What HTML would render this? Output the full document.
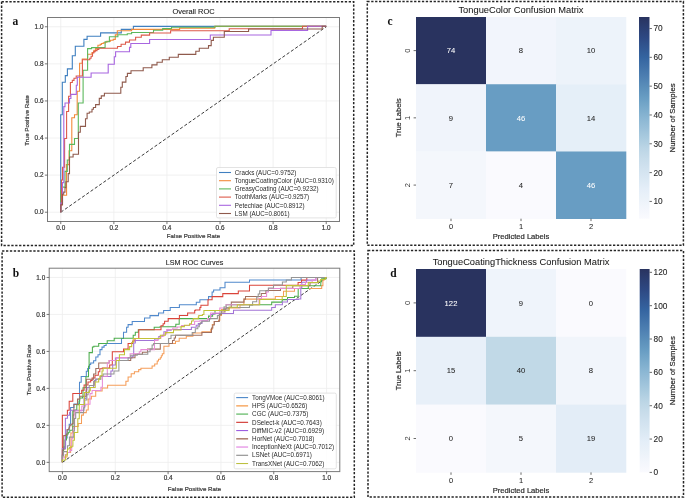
<!DOCTYPE html>
<html><head><meta charset="utf-8"><style>
html,body{margin:0;padding:0;background:#fff;}
svg{display:block;will-change:transform;}
</style></head><body>
<svg width="685" height="499" viewBox="0 0 685 499">
<rect width="685" height="499" fill="#fff"/>
<rect x="1.6" y="1.7" width="352.09999999999997" height="243.8" fill="none" stroke="#262626" stroke-width="1.5" stroke-dasharray="2.3 1.6"/>
<rect x="2.1" y="250.9" width="352.2" height="246.4" fill="none" stroke="#262626" stroke-width="1.5" stroke-dasharray="2.3 1.6"/>
<rect x="367.3" y="1.6" width="316.09999999999997" height="243.70000000000002" fill="none" stroke="#262626" stroke-width="1.5" stroke-dasharray="2.3 1.6"/>
<rect x="368.0" y="250.6" width="315.5" height="246.50000000000003" fill="none" stroke="#262626" stroke-width="1.5" stroke-dasharray="2.3 1.6"/>
<line x1="60.77" y1="17.50" x2="60.77" y2="221.50" stroke="#eeeeee" stroke-width="0.8"/>
<line x1="47.50" y1="212.23" x2="339.50" y2="212.23" stroke="#eeeeee" stroke-width="0.8"/>
<line x1="113.86" y1="17.50" x2="113.86" y2="221.50" stroke="#eeeeee" stroke-width="0.8"/>
<line x1="47.50" y1="175.14" x2="339.50" y2="175.14" stroke="#eeeeee" stroke-width="0.8"/>
<line x1="166.95" y1="17.50" x2="166.95" y2="221.50" stroke="#eeeeee" stroke-width="0.8"/>
<line x1="47.50" y1="138.05" x2="339.50" y2="138.05" stroke="#eeeeee" stroke-width="0.8"/>
<line x1="220.05" y1="17.50" x2="220.05" y2="221.50" stroke="#eeeeee" stroke-width="0.8"/>
<line x1="47.50" y1="100.95" x2="339.50" y2="100.95" stroke="#eeeeee" stroke-width="0.8"/>
<line x1="273.14" y1="17.50" x2="273.14" y2="221.50" stroke="#eeeeee" stroke-width="0.8"/>
<line x1="47.50" y1="63.86" x2="339.50" y2="63.86" stroke="#eeeeee" stroke-width="0.8"/>
<line x1="326.23" y1="17.50" x2="326.23" y2="221.50" stroke="#eeeeee" stroke-width="0.8"/>
<line x1="47.50" y1="26.77" x2="339.50" y2="26.77" stroke="#eeeeee" stroke-width="0.8"/>
<line x1="60.77" y1="212.23" x2="326.23" y2="26.77" stroke="#303030" stroke-width="0.95" stroke-dasharray="3.2 2.0"/>
<path d="M60.77,212.20 L60.70,114.70 L62.30,114.70 L62.30,82.20 L65.30,82.20 L65.30,75.60 L67.40,75.60 L67.40,68.90 L72.30,68.90 L72.30,55.80 L75.30,55.80 L75.30,46.20 L83.90,46.20 L83.90,39.40 L87.10,39.40 L87.10,36.30 L100.60,36.30 L100.60,32.90 L121.30,32.90 L121.30,29.40 L133.40,29.40 L133.40,26.40 L326.20,26.40" fill="none" stroke="#3f7fc0" stroke-width="1.1" stroke-linejoin="miter"/>
<path d="M60.77,212.20 L60.77,205.00 L62.30,205.00 L62.30,195.20 L66.60,195.20 L66.40,164.60 L69.10,164.60 L69.10,150.70 L71.80,150.70 L71.80,117.80 L74.50,117.80 L74.50,114.70 L77.20,114.70 L77.20,91.30 L79.60,91.30 L79.60,63.30 L82.30,63.30 L82.30,59.00 L87.60,59.00 L87.60,54.30 L92.00,54.30 L92.00,52.50 L93.80,52.50 L93.80,50.30 L95.60,50.30 L95.60,48.60 L97.90,48.60 L97.90,45.30 L100.20,45.30 L100.20,44.40 L101.50,44.40 L101.50,43.50 L103.30,43.50 L103.30,42.90 L105.10,42.90 L105.10,42.20 L106.90,42.20 L106.90,41.20 L110.50,41.20 L110.50,40.30 L113.20,40.30 L113.20,39.40 L115.30,39.40 L115.30,34.90 L117.30,34.90 L117.30,30.80 L131.60,30.80 L131.60,29.40 L179.60,29.40 L179.60,28.10 L214.70,28.10 L214.70,26.40 L326.20,26.40" fill="none" stroke="#f28a3a" stroke-width="1.1" stroke-linejoin="miter"/>
<path d="M60.77,212.20 L60.77,190.30 L62.30,190.30 L62.30,187.10 L65.00,187.10 L65.00,171.40 L67.30,171.40 L67.30,160.00 L69.50,160.00 L69.50,144.40 L74.50,144.40 L74.50,138.50 L78.30,138.50 L78.30,103.00 L83.10,103.00 L83.10,70.30 L87.60,70.30 L87.60,48.60 L91.60,48.60 L91.60,47.60 L105.10,47.60 L105.10,41.70 L109.40,41.70 L109.40,36.70 L117.90,36.70 L117.90,34.70 L127.30,34.70 L127.30,33.80 L131.60,33.80 L131.60,32.50 L153.50,32.50 L153.50,30.30 L162.70,30.30 L162.70,28.60 L171.50,28.60 L171.50,27.30 L215.10,27.30 L215.10,26.30 L326.20,26.30" fill="none" stroke="#5cb85c" stroke-width="1.1" stroke-linejoin="miter"/>
<path d="M60.77,212.20 L60.77,205.00 L61.50,205.00 L61.50,180.00 L62.50,180.00 L62.50,167.30 L64.60,167.30 L64.60,138.50 L66.60,138.50 L66.60,111.50 L68.60,111.50 L68.60,96.20 L70.40,96.20 L70.40,82.50 L72.30,82.50 L72.30,80.40 L74.00,80.40 L74.00,78.20 L76.20,78.20 L76.20,76.00 L82.40,76.00 L82.40,59.80 L89.80,59.80 L89.80,58.20 L91.10,58.20 L91.10,56.20 L92.50,56.20 L92.50,53.00 L93.80,53.00 L93.80,51.60 L95.20,51.60 L95.20,50.60 L97.00,50.60 L97.00,49.40 L98.80,49.40 L98.80,48.30 L117.50,48.30 L117.50,46.50 L121.10,46.50 L121.10,44.30 L125.50,44.30 L125.50,42.10 L129.50,42.10 L129.50,40.00 L135.60,40.00 L135.60,37.30 L141.30,37.30 L141.30,35.10 L149.60,35.10 L149.60,33.00 L170.60,33.00 L170.60,30.80 L229.20,30.80 L229.20,28.70 L302.50,28.70 L302.50,26.30 L326.20,26.30" fill="none" stroke="#dd5a4a" stroke-width="1.1" stroke-linejoin="miter"/>
<path d="M60.77,212.20 L60.77,203.00 L62.50,203.00 L62.50,182.60 L63.80,182.60 L63.80,106.60 L65.00,106.60 L65.00,103.00 L69.50,103.00 L69.50,98.50 L70.90,98.50 L70.90,94.40 L76.30,94.40 L76.30,85.30 L77.30,85.30 L77.30,77.30 L91.10,77.30 L91.10,73.00 L108.20,73.00 L108.20,64.20 L114.30,64.20 L114.30,56.80 L115.60,56.80 L115.60,51.80 L129.50,51.80 L129.50,47.40 L130.80,47.40 L130.80,43.50 L149.60,43.50 L149.60,39.50 L210.30,39.50 L210.30,35.00 L271.00,35.00 L271.00,30.40 L307.60,30.40 L307.60,26.30 L326.20,26.30" fill="none" stroke="#a866e0" stroke-width="1.1" stroke-linejoin="miter"/>
<path d="M60.77,212.20 L60.77,204.70 L62.50,204.70 L62.50,194.30 L63.70,194.30 L63.70,192.10 L65.00,192.10 L65.00,187.60 L65.90,187.60 L65.90,181.70 L68.20,181.70 L68.20,173.60 L69.50,173.60 L69.50,157.00 L73.10,157.00 L73.10,154.30 L78.50,154.30 L78.50,132.20 L80.30,132.20 L80.30,126.40 L85.50,126.40 L85.50,118.70 L87.10,118.70 L87.10,113.30 L89.30,113.30 L89.30,112.00 L92.00,112.00 L92.00,109.30 L93.40,109.30 L93.40,107.50 L95.60,107.50 L95.60,104.60 L99.30,104.60 L99.30,98.40 L101.30,98.40 L101.30,95.90 L104.40,95.90 L104.40,93.30 L120.80,93.30 L120.80,87.20 L122.30,87.20 L122.30,82.10 L125.90,82.10 L125.90,76.50 L127.40,76.50 L127.40,73.40 L131.00,73.40 L131.00,70.80 L143.20,70.80 L143.20,67.80 L151.90,67.80 L151.90,64.90 L157.00,64.90 L157.00,62.30 L162.30,62.30 L162.30,59.70 L169.30,59.70 L169.30,57.30 L178.30,57.30 L178.30,54.40 L195.80,54.40 L195.80,51.30 L199.30,51.30 L199.30,48.30 L208.50,48.30 L208.50,45.60 L211.20,45.60 L211.20,40.40 L213.40,40.40 L213.40,37.30 L224.30,37.30 L224.30,31.50 L248.60,31.50 L248.60,29.00 L322.20,29.00 L322.20,26.30 L326.20,26.30" fill="none" stroke="#8f5a4c" stroke-width="1.1" stroke-linejoin="miter"/>
<rect x="47.5" y="17.5" width="292.0" height="204.0" fill="none" stroke="#7a7a7a" stroke-width="1"/>
<line x1="60.77" y1="221.50" x2="60.77" y2="224.10" stroke="#555" stroke-width="0.8"/>
<text x="60.77" y="229.90" font-size="6.4" text-anchor="middle" fill="#333" font-family='"Liberation Sans", sans-serif' font-weight="normal" stroke="#333" stroke-width="0.18">0.0</text>
<line x1="44.90" y1="212.23" x2="47.50" y2="212.23" stroke="#555" stroke-width="0.8"/>
<text x="43.50" y="214.48" font-size="6.4" text-anchor="end" fill="#333" font-family='"Liberation Sans", sans-serif' font-weight="normal" stroke="#333" stroke-width="0.18">0.0</text>
<line x1="113.86" y1="221.50" x2="113.86" y2="224.10" stroke="#555" stroke-width="0.8"/>
<text x="113.86" y="229.90" font-size="6.4" text-anchor="middle" fill="#333" font-family='"Liberation Sans", sans-serif' font-weight="normal" stroke="#333" stroke-width="0.18">0.2</text>
<line x1="44.90" y1="175.14" x2="47.50" y2="175.14" stroke="#555" stroke-width="0.8"/>
<text x="43.50" y="177.39" font-size="6.4" text-anchor="end" fill="#333" font-family='"Liberation Sans", sans-serif' font-weight="normal" stroke="#333" stroke-width="0.18">0.2</text>
<line x1="166.95" y1="221.50" x2="166.95" y2="224.10" stroke="#555" stroke-width="0.8"/>
<text x="166.95" y="229.90" font-size="6.4" text-anchor="middle" fill="#333" font-family='"Liberation Sans", sans-serif' font-weight="normal" stroke="#333" stroke-width="0.18">0.4</text>
<line x1="44.90" y1="138.05" x2="47.50" y2="138.05" stroke="#555" stroke-width="0.8"/>
<text x="43.50" y="140.30" font-size="6.4" text-anchor="end" fill="#333" font-family='"Liberation Sans", sans-serif' font-weight="normal" stroke="#333" stroke-width="0.18">0.4</text>
<line x1="220.05" y1="221.50" x2="220.05" y2="224.10" stroke="#555" stroke-width="0.8"/>
<text x="220.05" y="229.90" font-size="6.4" text-anchor="middle" fill="#333" font-family='"Liberation Sans", sans-serif' font-weight="normal" stroke="#333" stroke-width="0.18">0.6</text>
<line x1="44.90" y1="100.95" x2="47.50" y2="100.95" stroke="#555" stroke-width="0.8"/>
<text x="43.50" y="103.20" font-size="6.4" text-anchor="end" fill="#333" font-family='"Liberation Sans", sans-serif' font-weight="normal" stroke="#333" stroke-width="0.18">0.6</text>
<line x1="273.14" y1="221.50" x2="273.14" y2="224.10" stroke="#555" stroke-width="0.8"/>
<text x="273.14" y="229.90" font-size="6.4" text-anchor="middle" fill="#333" font-family='"Liberation Sans", sans-serif' font-weight="normal" stroke="#333" stroke-width="0.18">0.8</text>
<line x1="44.90" y1="63.86" x2="47.50" y2="63.86" stroke="#555" stroke-width="0.8"/>
<text x="43.50" y="66.11" font-size="6.4" text-anchor="end" fill="#333" font-family='"Liberation Sans", sans-serif' font-weight="normal" stroke="#333" stroke-width="0.18">0.8</text>
<line x1="326.23" y1="221.50" x2="326.23" y2="224.10" stroke="#555" stroke-width="0.8"/>
<text x="326.23" y="229.90" font-size="6.4" text-anchor="middle" fill="#333" font-family='"Liberation Sans", sans-serif' font-weight="normal" stroke="#333" stroke-width="0.18">1.0</text>
<line x1="44.90" y1="26.77" x2="47.50" y2="26.77" stroke="#555" stroke-width="0.8"/>
<text x="43.50" y="29.02" font-size="6.4" text-anchor="end" fill="#333" font-family='"Liberation Sans", sans-serif' font-weight="normal" stroke="#333" stroke-width="0.18">1.0</text>
<text x="193.50" y="14.20" font-size="7.45" text-anchor="middle" fill="#222" font-family='"Liberation Sans", sans-serif' font-weight="normal" stroke="#222" stroke-width="0.1">Overall ROC</text>
<text x="193.50" y="237.80" font-size="6.2" text-anchor="middle" fill="#333" font-family='"Liberation Sans", sans-serif' font-weight="normal" stroke="#333" stroke-width="0.18">False Positive Rate</text>
<text x="28.60" y="120.50" font-size="6.2" text-anchor="middle" fill="#333" font-family='"Liberation Sans", sans-serif' font-weight="normal" stroke="#333" stroke-width="0.18" transform="rotate(-90 28.6 120.5)">True Positive Rate</text>
<text x="12.50" y="24.80" font-size="11.5" text-anchor="start" fill="#111" font-family='"Liberation Serif", serif' font-weight="bold">a</text>
<rect x="216.5" y="167.5" width="119.69999999999999" height="50.400000000000006" rx="1.5" fill="#fff" fill-opacity="0.85" stroke="#dcdcdc" stroke-width="0.8"/>
<line x1="219.00" y1="172.50" x2="231.00" y2="172.50" stroke="#3f7fc0" stroke-width="1.1"/>
<text x="234.80" y="174.70" font-size="6.28" text-anchor="start" fill="#2a2a2a" font-family='"Liberation Sans", sans-serif' font-weight="normal">Cracks (AUC=0.9752)</text>
<line x1="219.00" y1="180.70" x2="231.00" y2="180.70" stroke="#f28a3a" stroke-width="1.1"/>
<text x="234.80" y="182.90" font-size="6.28" text-anchor="start" fill="#2a2a2a" font-family='"Liberation Sans", sans-serif' font-weight="normal">TongueCoatingColor (AUC=0.9310)</text>
<line x1="219.00" y1="188.90" x2="231.00" y2="188.90" stroke="#5cb85c" stroke-width="1.1"/>
<text x="234.80" y="191.10" font-size="6.28" text-anchor="start" fill="#2a2a2a" font-family='"Liberation Sans", sans-serif' font-weight="normal">GreasyCoating (AUC=0.9232)</text>
<line x1="219.00" y1="197.10" x2="231.00" y2="197.10" stroke="#dd5a4a" stroke-width="1.1"/>
<text x="234.80" y="199.30" font-size="6.28" text-anchor="start" fill="#2a2a2a" font-family='"Liberation Sans", sans-serif' font-weight="normal">ToothMarks (AUC=0.9257)</text>
<line x1="219.00" y1="205.30" x2="231.00" y2="205.30" stroke="#a866e0" stroke-width="1.1"/>
<text x="234.80" y="207.50" font-size="6.28" text-anchor="start" fill="#2a2a2a" font-family='"Liberation Sans", sans-serif' font-weight="normal">Petechiae (AUC=0.8912)</text>
<line x1="219.00" y1="213.50" x2="231.00" y2="213.50" stroke="#8f5a4c" stroke-width="1.1"/>
<text x="234.80" y="215.70" font-size="6.28" text-anchor="start" fill="#2a2a2a" font-family='"Liberation Sans", sans-serif' font-weight="normal">LSM (AUC=0.8061)</text>
<line x1="62.41" y1="268.20" x2="62.41" y2="471.60" stroke="#eeeeee" stroke-width="0.8"/>
<line x1="49.20" y1="462.35" x2="339.80" y2="462.35" stroke="#eeeeee" stroke-width="0.8"/>
<line x1="115.25" y1="268.20" x2="115.25" y2="471.60" stroke="#eeeeee" stroke-width="0.8"/>
<line x1="49.20" y1="425.37" x2="339.80" y2="425.37" stroke="#eeeeee" stroke-width="0.8"/>
<line x1="168.08" y1="268.20" x2="168.08" y2="471.60" stroke="#eeeeee" stroke-width="0.8"/>
<line x1="49.20" y1="388.39" x2="339.80" y2="388.39" stroke="#eeeeee" stroke-width="0.8"/>
<line x1="220.92" y1="268.20" x2="220.92" y2="471.60" stroke="#eeeeee" stroke-width="0.8"/>
<line x1="49.20" y1="351.41" x2="339.80" y2="351.41" stroke="#eeeeee" stroke-width="0.8"/>
<line x1="273.75" y1="268.20" x2="273.75" y2="471.60" stroke="#eeeeee" stroke-width="0.8"/>
<line x1="49.20" y1="314.43" x2="339.80" y2="314.43" stroke="#eeeeee" stroke-width="0.8"/>
<line x1="326.59" y1="268.20" x2="326.59" y2="471.60" stroke="#eeeeee" stroke-width="0.8"/>
<line x1="49.20" y1="277.45" x2="339.80" y2="277.45" stroke="#eeeeee" stroke-width="0.8"/>
<line x1="62.41" y1="462.35" x2="326.59" y2="277.45" stroke="#303030" stroke-width="0.95" stroke-dasharray="3.2 2.0"/>
<path d="M62.35,462.35 L62.35,455.00 L63.00,455.00 L63.00,447.00 L65.60,447.00 L65.60,438.00 L67.10,438.00 L67.10,430.00 L69.20,430.00 L69.20,424.30 L70.60,424.30 L70.60,407.40 L73.90,407.40 L73.90,404.10 L79.50,404.10 L79.50,382.30 L81.20,382.30 L81.20,376.40 L86.30,376.40 L86.30,371.30 L87.70,371.30 L87.70,368.40 L89.60,368.40 L89.60,364.40 L90.70,364.40 L90.70,363.00 L93.60,363.00 L93.60,360.70 L95.80,360.70 L95.80,357.00 L98.00,357.00 L98.00,354.70 L100.00,354.70 L100.00,349.60 L102.00,349.60 L102.00,347.10 L104.10,347.10 L104.10,345.50 L106.10,345.50 L106.10,343.50 L121.50,343.50 L121.50,338.40 L123.50,338.40 L123.50,332.30 L126.60,332.30 L126.60,327.20 L128.10,327.20 L128.10,324.60 L132.20,324.60 L132.20,321.50 L144.50,321.50 L144.50,318.00 L150.00,318.00 L150.00,315.60 L158.50,315.60 L158.50,313.00 L163.60,313.00 L163.60,310.40 L170.20,310.40 L170.20,307.40 L179.40,307.40 L179.40,304.80 L196.30,304.80 L196.30,302.30 L199.90,302.30 L199.90,299.70 L208.50,299.70 L208.50,296.60 L212.10,296.60 L212.10,292.00 L213.60,292.00 L213.60,290.00 L220.00,290.00 L220.00,287.80 L225.00,287.80 L225.00,282.20 L249.50,282.20 L249.50,280.00 L301.10,280.00 L301.10,277.45 L326.60,277.45" fill="none" stroke="#5089cc" stroke-width="1.05" stroke-linejoin="miter"/>
<path d="M62.35,462.35 L62.35,457.00 L67.10,457.00 L67.10,452.40 L70.60,452.40 L70.60,446.00 L70.90,446.00 L70.90,433.00 L72.50,433.00 L72.50,426.50 L78.20,426.50 L78.20,423.40 L81.50,423.40 L81.50,415.10 L83.40,415.10 L83.40,412.60 L86.30,412.60 L86.30,410.00 L88.20,410.00 L88.20,399.00 L91.40,399.00 L91.40,396.30 L95.70,396.30 L95.70,391.00 L102.10,391.00 L102.10,388.00 L107.60,388.00 L107.60,385.20 L123.80,385.20 L125.90,385.20 L125.90,381.20 L128.10,381.20 L128.10,377.00 L131.20,377.00 L131.20,373.80 L134.40,373.80 L134.40,371.70 L138.70,371.70 L138.70,369.60 L140.90,369.60 L140.90,368.20 L152.10,368.20 L152.10,366.00 L154.70,366.00 L154.70,363.90 L157.20,363.90 L157.20,360.90 L158.50,360.90 L158.50,359.30 L160.30,359.30 L160.30,357.80 L161.30,357.80 L161.30,355.80 L162.30,355.80 L162.30,353.70 L163.90,353.70 L163.90,346.30 L169.00,346.30 L169.00,343.40 L175.50,343.40 L175.50,341.20 L179.20,341.20 L179.20,338.20 L186.30,338.20 L186.30,336.30 L192.90,336.30 L192.90,333.00 L201.90,333.00 L201.90,331.80 L210.80,331.80 L210.80,329.30 L212.30,329.30 L212.30,324.50 L214.20,324.50 L214.20,321.50 L218.50,321.50 L218.50,320.20 L219.80,320.20 L219.80,315.50 L221.50,315.50 L221.50,309.40 L225.40,309.40 L225.40,308.00 L240.00,308.00 L240.00,304.70 L243.90,304.70 L243.90,299.10 L275.30,299.10 L275.30,296.50 L283.50,296.50 L283.50,291.20 L294.50,291.20 L294.50,288.50 L321.70,288.50 L321.70,285.60 L322.90,285.60 L322.90,280.10 L324.00,280.10 L324.00,278.40 L326.10,278.40 L326.10,277.45 L326.60,277.45" fill="none" stroke="#f59d58" stroke-width="1.05" stroke-linejoin="miter"/>
<path d="M62.35,462.35 L62.35,455.00 L63.50,455.00 L63.50,449.00 L65.00,449.00 L65.00,440.00 L66.50,440.00 L66.50,434.00 L68.30,434.00 L68.30,432.20 L69.80,432.20 L69.80,430.30 L72.50,430.30 L72.50,428.00 L72.80,428.00 L72.80,411.00 L75.00,411.00 L75.00,409.90 L76.80,409.90 L76.80,404.80 L79.00,404.80 L79.00,401.00 L79.70,401.00 L79.70,398.00 L82.50,398.00 L82.50,397.20 L83.00,397.20 L83.00,387.70 L85.90,387.70 L85.90,376.80 L88.50,376.80 L88.50,366.20 L89.10,366.20 L89.10,352.60 L92.40,352.60 L92.40,347.00 L93.80,347.00 L93.80,346.30 L98.70,346.30 L98.70,343.50 L107.20,343.50 L107.20,340.80 L114.20,340.80 L114.20,338.20 L133.20,338.20 L133.20,335.30 L135.30,335.30 L135.30,332.30 L138.30,332.30 L138.30,329.70 L154.20,329.70 L154.20,327.20 L160.00,327.20 L160.00,326.80 L175.80,326.80 L175.80,324.20 L179.20,324.20 L179.20,318.60 L208.50,318.60 L208.50,316.10 L212.60,316.10 L212.60,314.00 L215.00,314.00 L215.00,310.50 L224.00,310.50 L224.00,306.90 L226.20,306.90 L226.20,304.70 L271.70,304.70 L271.70,302.10 L282.20,302.10 L282.20,299.60 L287.50,299.60 L287.50,297.50 L294.50,297.50 L294.50,296.20 L298.20,296.20 L298.20,288.50 L308.30,288.50 L308.30,285.80 L320.80,285.80 L320.80,281.70 L321.60,281.70 L321.60,278.70 L326.10,278.70 L326.10,277.45 L326.60,277.45" fill="none" stroke="#4cad4c" stroke-width="1.05" stroke-linejoin="miter"/>
<path d="M62.35,462.35 L62.35,415.30 L67.40,415.30 L67.40,410.20 L69.20,410.20 L69.20,401.20 L72.80,401.20 L72.80,393.40 L81.70,393.40 L81.70,390.30 L84.10,390.30 L84.10,385.00 L88.00,385.00 L88.00,382.00 L90.70,382.00 L90.70,380.40 L92.10,380.40 L92.10,378.00 L95.00,378.00 L95.00,375.30 L98.30,375.30 L98.30,371.70 L99.80,371.70 L99.80,368.80 L102.30,368.80 L102.30,368.00 L102.60,368.00 L109.70,368.00 L109.70,365.00 L112.30,365.00 L112.30,351.70 L123.50,351.70 L123.50,349.10 L128.10,349.10 L128.10,343.50 L132.70,343.50 L132.70,341.00 L135.00,341.00 L135.00,338.40 L137.30,338.40 L138.80,338.40 L138.80,329.70 L161.00,329.70 L161.00,327.80 L161.00,325.80 L163.10,325.80 L163.10,323.70 L164.60,323.70 L164.60,321.20 L165.60,321.20 L168.20,321.20 L168.20,318.60 L168.70,318.60 L179.40,318.60 L179.40,315.50 L187.60,315.50 L187.60,313.00 L188.10,313.00 L194.70,313.00 L194.70,310.40 L195.30,310.40 L195.30,309.90 L199.90,309.90 L199.90,307.40 L200.90,307.40 L200.90,305.30 L201.90,305.30 L208.00,305.30 L208.00,299.70 L209.00,299.70 L212.10,299.70 L212.10,296.60 L222.80,296.60 L222.80,293.60 L238.30,293.60 L238.30,290.90 L238.80,290.90 L249.50,290.90 L249.50,285.30 L298.10,285.30 L298.10,282.40 L298.40,282.40 L301.50,282.40 L301.50,280.10 L306.80,280.10 L306.80,277.45 L326.60,277.45" fill="none" stroke="#da443a" stroke-width="1.05" stroke-linejoin="miter"/>
<path d="M62.35,462.35 L62.35,448.60 L65.40,448.60 L65.40,418.30 L67.50,418.30 L67.50,415.30 L69.60,415.30 L69.60,412.40 L70.30,412.40 L70.30,410.20 L84.00,410.20 L84.00,398.50 L86.00,398.50 L86.00,390.00 L87.00,390.00 L87.00,387.50 L93.60,387.50 L93.60,385.20 L94.50,385.20 L94.50,380.40 L95.80,380.40 L95.80,379.00 L100.00,379.00 L100.00,376.50 L110.90,376.50 L110.90,371.00 L112.70,371.00 L112.70,365.00 L115.40,365.00 L115.40,358.00 L132.00,358.00 L132.00,356.30 L133.70,356.30 L133.70,343.00 L135.30,343.00 L135.30,340.40 L154.70,340.40 L154.70,338.90 L158.80,338.90 L158.80,336.40 L162.30,336.40 L162.30,335.30 L163.90,335.30 L163.90,331.80 L167.00,331.80 L167.00,330.20 L171.20,330.20 L171.20,329.50 L191.40,329.50 L191.40,327.30 L196.20,327.30 L196.20,325.20 L198.30,325.20 L198.30,323.50 L201.90,323.50 L201.90,320.70 L207.80,320.70 L207.80,318.60 L210.60,318.60 L210.60,314.50 L213.10,314.50 L213.10,313.50 L227.00,313.50 L227.00,313.40 L233.50,313.40 L233.50,310.30 L271.70,310.30 L271.70,307.50 L275.30,307.50 L275.30,304.70 L282.40,304.70 L282.40,302.00 L287.50,302.00 L287.50,299.50 L298.40,299.50 L298.40,299.00 L300.80,299.00 L300.80,288.10 L301.80,288.10 L301.80,282.30 L306.50,282.30 L306.50,280.10 L316.00,280.10 L316.00,277.45 L326.60,277.45" fill="none" stroke="#a274d6" stroke-width="1.05" stroke-linejoin="miter"/>
<path d="M62.35,462.35 L62.35,450.00 L63.70,450.00 L63.70,435.60 L65.60,435.60 L65.60,435.20 L67.10,435.20 L67.10,429.50 L68.80,429.50 L68.80,427.90 L69.60,427.90 L69.60,425.80 L71.00,425.80 L71.00,424.30 L72.40,424.30 L72.40,423.60 L73.20,423.60 L73.20,414.90 L73.90,414.90 L73.90,404.50 L77.50,404.50 L77.50,399.10 L79.70,399.10 L79.70,396.30 L86.40,396.30 L86.40,379.30 L86.60,379.30 L93.60,379.30 L93.60,373.90 L95.80,373.90 L95.80,368.40 L98.70,368.40 L98.70,362.90 L109.20,362.90 L109.20,360.40 L130.70,360.40 L130.70,357.80 L135.00,357.80 L135.00,354.20 L142.40,354.20 L142.40,352.20 L147.50,352.20 L147.50,349.10 L160.30,349.10 L160.30,343.40 L172.50,343.40 L172.50,340.50 L174.20,340.50 L174.20,338.00 L175.50,338.00 L175.50,335.20 L201.90,335.20 L201.90,332.40 L211.50,332.40 L211.50,328.00 L212.80,328.00 L212.80,325.00 L214.30,325.00 L214.30,321.50 L219.30,321.50 L219.30,314.50 L221.30,314.50 L221.30,312.00 L225.00,312.00 L225.00,309.00 L229.10,309.00 L229.10,307.30 L231.30,307.30 L231.30,302.10 L244.00,302.10 L244.00,299.10 L245.50,299.10 L245.50,296.50 L261.30,296.50 L261.30,293.50 L265.90,293.50 L265.90,290.40 L280.50,290.40 L280.50,288.20 L292.80,288.20 L292.80,285.80 L310.00,285.80 L310.00,282.70 L317.60,282.70 L317.60,277.45 L326.60,277.45" fill="none" stroke="#a07060" stroke-width="1.05" stroke-linejoin="miter"/>
<path d="M62.35,462.35 L62.35,458.00 L65.20,458.00 L65.20,454.50 L67.30,454.50 L67.30,452.40 L69.80,452.40 L69.80,450.50 L71.70,450.50 L71.70,438.70 L72.90,438.70 L72.90,433.00 L73.20,433.00 L73.20,428.00 L74.60,428.00 L74.60,418.50 L75.00,418.50 L75.00,411.00 L81.80,411.00 L81.80,405.90 L85.80,405.90 L85.80,404.30 L90.00,404.30 L90.00,393.60 L92.10,393.60 L92.10,390.50 L100.90,390.50 L100.90,387.20 L102.40,387.20 L102.40,376.30 L107.30,376.30 L107.30,362.90 L109.20,362.90 L109.20,360.40 L116.30,360.40 L116.30,357.50 L130.10,357.50 L130.10,353.70 L139.30,353.70 L139.30,351.70 L140.90,351.70 L140.90,349.60 L154.50,349.60 L154.50,340.50 L158.00,340.50 L158.00,338.30 L160.90,338.30 L160.90,336.10 L163.80,336.10 L163.80,333.90 L166.70,333.90 L166.70,329.40 L172.80,329.40 L172.80,328.00 L177.20,328.00 L177.20,327.00 L181.50,327.00 L181.50,325.50 L189.60,325.50 L189.60,324.40 L194.60,324.40 L194.60,321.30 L199.90,321.30 L199.90,320.70 L207.50,320.70 L207.50,318.60 L210.60,318.60 L210.60,313.00 L219.80,313.00 L219.80,307.90 L226.00,307.90 L226.00,304.70 L259.00,304.70 L259.00,298.60 L261.50,298.60 L261.50,296.50 L266.60,296.50 L266.60,291.90 L268.40,291.90 L268.40,288.40 L300.00,288.40 L300.00,284.40 L305.50,284.40 L305.50,282.20 L312.20,282.20 L312.20,280.10 L315.60,280.10 L315.60,277.45 L326.60,277.45" fill="none" stroke="#e88cd6" stroke-width="1.05" stroke-linejoin="miter"/>
<path d="M62.35,462.35 L62.35,456.00 L63.50,456.00 L63.50,451.60 L67.50,451.60 L67.50,445.70 L69.40,445.70 L69.40,437.10 L73.80,437.10 L73.80,431.00 L74.40,431.00 L74.40,418.50 L75.70,418.50 L75.70,412.60 L83.60,412.60 L83.60,407.70 L84.70,407.70 L84.70,400.00 L86.90,400.00 L86.90,394.70 L88.10,394.70 L88.10,392.10 L89.20,392.10 L89.20,385.50 L93.60,385.50 L93.60,381.20 L95.80,381.20 L95.80,379.30 L100.90,379.30 L100.90,376.00 L103.10,376.00 L103.10,373.90 L114.00,373.90 L114.00,371.00 L118.90,371.00 L118.90,360.40 L119.40,360.40 L128.10,360.40 L128.10,357.80 L130.70,357.80 L130.70,355.30 L137.30,355.30 L137.30,354.20 L147.80,354.20 L147.80,351.70 L150.10,351.70 L150.10,349.10 L152.10,349.10 L152.10,345.00 L153.60,345.00 L153.60,343.50 L168.60,343.50 L168.60,338.50 L171.00,338.50 L171.00,335.20 L192.20,335.20 L192.20,332.40 L195.30,332.40 L195.30,328.80 L197.80,328.80 L197.80,326.80 L199.30,326.80 L199.30,324.20 L200.40,324.20 L200.40,322.70 L201.90,322.70 L201.90,321.20 L209.50,321.20 L209.50,318.60 L217.40,318.60 L217.40,315.50 L220.00,315.50 L220.00,313.50 L221.30,313.50 L221.30,310.40 L224.00,310.40 L224.00,308.80 L226.50,308.80 L226.50,307.50 L249.50,307.50 L249.50,305.20 L252.60,305.20 L252.60,301.80 L256.70,301.80 L256.70,297.00 L258.20,297.00 L258.20,294.00 L259.70,294.00 L259.70,290.80 L268.40,290.80 L268.40,288.00 L273.50,288.00 L273.50,285.00 L282.40,285.00 L282.40,282.00 L286.30,282.00 L286.30,280.00 L291.40,280.00 L291.40,277.45 L326.60,277.45" fill="none" stroke="#959595" stroke-width="1.05" stroke-linejoin="miter"/>
<path d="M62.35,462.35 L62.35,460.00 L65.60,460.00 L65.60,455.00 L67.50,455.00 L67.50,449.00 L69.40,449.00 L69.40,447.40 L71.70,447.40 L71.70,446.30 L72.90,446.30 L72.90,440.20 L74.40,440.20 L74.40,432.40 L77.80,432.40 L77.80,418.70 L79.30,418.70 L79.30,404.50 L84.40,404.50 L84.40,392.50 L89.20,392.50 L89.20,390.70 L90.30,390.70 L90.30,387.40 L95.20,387.40 L95.20,381.90 L98.70,381.90 L98.70,378.60 L100.10,378.60 L100.10,375.70 L102.00,375.70 L102.00,370.90 L103.10,370.90 L103.10,368.20 L116.30,368.20 L116.30,360.40 L119.40,360.40 L119.40,354.70 L124.50,354.70 L124.50,349.60 L129.60,349.60 L129.60,346.60 L131.70,346.60 L131.70,342.50 L133.20,342.50 L133.20,338.40 L160.30,338.40 L160.30,335.30 L165.40,335.30 L165.40,332.60 L173.50,332.60 L173.50,329.90 L181.00,329.90 L181.00,326.60 L184.40,326.60 L184.40,325.20 L189.60,325.20 L189.60,323.70 L191.50,323.70 L191.50,321.00 L193.20,321.00 L193.20,318.60 L198.30,318.60 L198.30,317.00 L198.80,317.00 L198.80,315.50 L202.40,315.50 L202.40,314.50 L203.90,314.50 L203.90,310.40 L229.10,310.40 L229.10,307.30 L237.30,307.30 L237.30,304.70 L259.70,304.70 L259.70,299.40 L282.20,299.40 L282.20,296.50 L286.30,296.50 L286.30,285.60 L308.30,285.60 L308.30,282.40 L318.60,282.40 L318.60,281.00 L320.60,281.00 L320.60,279.50 L325.30,279.50 L325.30,278.70 L325.30,277.45 L326.60,277.45" fill="none" stroke="#c2c238" stroke-width="1.05" stroke-linejoin="miter"/>
<rect x="49.2" y="268.2" width="290.6" height="203.40000000000003" fill="none" stroke="#7a7a7a" stroke-width="1"/>
<line x1="62.41" y1="471.60" x2="62.41" y2="474.20" stroke="#555" stroke-width="0.8"/>
<text x="62.41" y="480.00" font-size="6.4" text-anchor="middle" fill="#333" font-family='"Liberation Sans", sans-serif' font-weight="normal" stroke="#333" stroke-width="0.18">0.0</text>
<line x1="46.60" y1="462.35" x2="49.20" y2="462.35" stroke="#555" stroke-width="0.8"/>
<text x="45.20" y="464.60" font-size="6.4" text-anchor="end" fill="#333" font-family='"Liberation Sans", sans-serif' font-weight="normal" stroke="#333" stroke-width="0.18">0.0</text>
<line x1="115.25" y1="471.60" x2="115.25" y2="474.20" stroke="#555" stroke-width="0.8"/>
<text x="115.25" y="480.00" font-size="6.4" text-anchor="middle" fill="#333" font-family='"Liberation Sans", sans-serif' font-weight="normal" stroke="#333" stroke-width="0.18">0.2</text>
<line x1="46.60" y1="425.37" x2="49.20" y2="425.37" stroke="#555" stroke-width="0.8"/>
<text x="45.20" y="427.62" font-size="6.4" text-anchor="end" fill="#333" font-family='"Liberation Sans", sans-serif' font-weight="normal" stroke="#333" stroke-width="0.18">0.2</text>
<line x1="168.08" y1="471.60" x2="168.08" y2="474.20" stroke="#555" stroke-width="0.8"/>
<text x="168.08" y="480.00" font-size="6.4" text-anchor="middle" fill="#333" font-family='"Liberation Sans", sans-serif' font-weight="normal" stroke="#333" stroke-width="0.18">0.4</text>
<line x1="46.60" y1="388.39" x2="49.20" y2="388.39" stroke="#555" stroke-width="0.8"/>
<text x="45.20" y="390.64" font-size="6.4" text-anchor="end" fill="#333" font-family='"Liberation Sans", sans-serif' font-weight="normal" stroke="#333" stroke-width="0.18">0.4</text>
<line x1="220.92" y1="471.60" x2="220.92" y2="474.20" stroke="#555" stroke-width="0.8"/>
<text x="220.92" y="480.00" font-size="6.4" text-anchor="middle" fill="#333" font-family='"Liberation Sans", sans-serif' font-weight="normal" stroke="#333" stroke-width="0.18">0.6</text>
<line x1="46.60" y1="351.41" x2="49.20" y2="351.41" stroke="#555" stroke-width="0.8"/>
<text x="45.20" y="353.66" font-size="6.4" text-anchor="end" fill="#333" font-family='"Liberation Sans", sans-serif' font-weight="normal" stroke="#333" stroke-width="0.18">0.6</text>
<line x1="273.75" y1="471.60" x2="273.75" y2="474.20" stroke="#555" stroke-width="0.8"/>
<text x="273.75" y="480.00" font-size="6.4" text-anchor="middle" fill="#333" font-family='"Liberation Sans", sans-serif' font-weight="normal" stroke="#333" stroke-width="0.18">0.8</text>
<line x1="46.60" y1="314.43" x2="49.20" y2="314.43" stroke="#555" stroke-width="0.8"/>
<text x="45.20" y="316.68" font-size="6.4" text-anchor="end" fill="#333" font-family='"Liberation Sans", sans-serif' font-weight="normal" stroke="#333" stroke-width="0.18">0.8</text>
<line x1="326.59" y1="471.60" x2="326.59" y2="474.20" stroke="#555" stroke-width="0.8"/>
<text x="326.59" y="480.00" font-size="6.4" text-anchor="middle" fill="#333" font-family='"Liberation Sans", sans-serif' font-weight="normal" stroke="#333" stroke-width="0.18">1.0</text>
<line x1="46.60" y1="277.45" x2="49.20" y2="277.45" stroke="#555" stroke-width="0.8"/>
<text x="45.20" y="279.70" font-size="6.4" text-anchor="end" fill="#333" font-family='"Liberation Sans", sans-serif' font-weight="normal" stroke="#333" stroke-width="0.18">1.0</text>
<text x="194.50" y="264.70" font-size="7.2" text-anchor="middle" fill="#222" font-family='"Liberation Sans", sans-serif' font-weight="normal" stroke="#222" stroke-width="0.1">LSM ROC Curves</text>
<text x="194.50" y="490.70" font-size="6.2" text-anchor="middle" fill="#333" font-family='"Liberation Sans", sans-serif' font-weight="normal" stroke="#333" stroke-width="0.18">False Positive Rate</text>
<text x="30.80" y="369.90" font-size="6.2" text-anchor="middle" fill="#333" font-family='"Liberation Sans", sans-serif' font-weight="normal" stroke="#333" stroke-width="0.18" transform="rotate(-90 30.8 369.9)">True Positive Rate</text>
<text x="12.80" y="276.70" font-size="11.5" text-anchor="start" fill="#111" font-family='"Liberation Serif", serif' font-weight="bold">b</text>
<rect x="234.2" y="393.1" width="102.10000000000002" height="75.69999999999999" rx="1.5" fill="#fff" fill-opacity="0.85" stroke="#dcdcdc" stroke-width="0.8"/>
<line x1="236.20" y1="397.60" x2="248.10" y2="397.60" stroke="#4a86c8" stroke-width="1.1"/>
<text x="252.10" y="399.80" font-size="6.32" text-anchor="start" fill="#2a2a2a" font-family='"Liberation Sans", sans-serif' font-weight="normal">TongVMoe (AUC=0.8061)</text>
<line x1="236.20" y1="405.84" x2="248.10" y2="405.84" stroke="#f8b070" stroke-width="1.6"/>
<text x="252.10" y="408.04" font-size="6.32" text-anchor="start" fill="#2a2a2a" font-family='"Liberation Sans", sans-serif' font-weight="normal">HPS (AUC=0.6526)</text>
<line x1="236.20" y1="414.08" x2="248.10" y2="414.08" stroke="#4caf50" stroke-width="1.1"/>
<text x="252.10" y="416.28" font-size="6.32" text-anchor="start" fill="#2a2a2a" font-family='"Liberation Sans", sans-serif' font-weight="normal">CGC (AUC=0.7375)</text>
<line x1="236.20" y1="422.32" x2="248.10" y2="422.32" stroke="#d0302a" stroke-width="1.1"/>
<text x="252.10" y="424.52" font-size="6.32" text-anchor="start" fill="#2a2a2a" font-family='"Liberation Sans", sans-serif' font-weight="normal">DSelect-k (AUC=0.7643)</text>
<line x1="236.20" y1="430.56" x2="248.10" y2="430.56" stroke="#9c5ee0" stroke-width="1.1"/>
<text x="252.10" y="432.76" font-size="6.32" text-anchor="start" fill="#2a2a2a" font-family='"Liberation Sans", sans-serif' font-weight="normal">DiffMIC-v2 (AUC=0.6929)</text>
<line x1="236.20" y1="438.80" x2="248.10" y2="438.80" stroke="#b08474" stroke-width="1.6"/>
<text x="252.10" y="441.00" font-size="6.32" text-anchor="start" fill="#2a2a2a" font-family='"Liberation Sans", sans-serif' font-weight="normal">HorNet (AUC=0.7018)</text>
<line x1="236.20" y1="447.04" x2="248.10" y2="447.04" stroke="#e07ee0" stroke-width="1.1"/>
<text x="252.10" y="449.24" font-size="6.32" text-anchor="start" fill="#2a2a2a" font-family='"Liberation Sans", sans-serif' font-weight="normal">InceptionNeXt (AUC=0.7012)</text>
<line x1="236.20" y1="455.28" x2="248.10" y2="455.28" stroke="#8a8a8a" stroke-width="1.1"/>
<text x="252.10" y="457.48" font-size="6.32" text-anchor="start" fill="#2a2a2a" font-family='"Liberation Sans", sans-serif' font-weight="normal">LSNet (AUC=0.6971)</text>
<line x1="236.20" y1="463.52" x2="248.10" y2="463.52" stroke="#bcc040" stroke-width="1.1"/>
<text x="252.10" y="465.72" font-size="6.32" text-anchor="start" fill="#2a2a2a" font-family='"Liberation Sans", sans-serif' font-weight="normal">TransXNet (AUC=0.7062)</text>
<rect x="416.00" y="17.00" width="70.30" height="67.53" fill="#29335f"/>
<text x="451.00" y="53.32" font-size="7.67" text-anchor="middle" fill="#fff" font-family='"Liberation Sans", sans-serif' font-weight="normal" stroke="#fff" stroke-width="0.05">74</text>
<rect x="486.00" y="17.00" width="70.30" height="67.53" fill="#f2f5fc"/>
<text x="521.00" y="53.32" font-size="7.67" text-anchor="middle" fill="#262626" font-family='"Liberation Sans", sans-serif' font-weight="normal" stroke="#262626" stroke-width="0.05">8</text>
<rect x="556.00" y="17.00" width="70.30" height="67.53" fill="#edf3fa"/>
<text x="591.00" y="53.32" font-size="7.67" text-anchor="middle" fill="#262626" font-family='"Liberation Sans", sans-serif' font-weight="normal" stroke="#262626" stroke-width="0.05">10</text>
<rect x="416.00" y="84.23" width="70.30" height="67.53" fill="#f0f4fb"/>
<text x="451.00" y="120.55" font-size="7.67" text-anchor="middle" fill="#262626" font-family='"Liberation Sans", sans-serif' font-weight="normal" stroke="#262626" stroke-width="0.05">9</text>
<rect x="486.00" y="84.23" width="70.30" height="67.53" fill="#689dc3"/>
<text x="521.00" y="120.55" font-size="7.67" text-anchor="middle" fill="#fff" font-family='"Liberation Sans", sans-serif' font-weight="normal" stroke="#fff" stroke-width="0.05">46</text>
<rect x="556.00" y="84.23" width="70.30" height="67.53" fill="#e5eff8"/>
<text x="591.00" y="120.55" font-size="7.67" text-anchor="middle" fill="#262626" font-family='"Liberation Sans", sans-serif' font-weight="normal" stroke="#262626" stroke-width="0.05">14</text>
<rect x="416.00" y="151.47" width="70.30" height="67.53" fill="#f4f7fc"/>
<text x="451.00" y="187.78" font-size="7.67" text-anchor="middle" fill="#262626" font-family='"Liberation Sans", sans-serif' font-weight="normal" stroke="#262626" stroke-width="0.05">7</text>
<rect x="486.00" y="151.47" width="70.30" height="67.53" fill="#fafafe"/>
<text x="521.00" y="187.78" font-size="7.67" text-anchor="middle" fill="#262626" font-family='"Liberation Sans", sans-serif' font-weight="normal" stroke="#262626" stroke-width="0.05">4</text>
<rect x="556.00" y="151.47" width="70.30" height="67.53" fill="#689dc3"/>
<text x="591.00" y="187.78" font-size="7.67" text-anchor="middle" fill="#fff" font-family='"Liberation Sans", sans-serif' font-weight="normal" stroke="#fff" stroke-width="0.05">46</text>
<line x1="451.00" y1="218.70" x2="451.00" y2="221.10" stroke="#444" stroke-width="0.8"/>
<text x="451.00" y="228.60" font-size="7.5" text-anchor="middle" fill="#262626" font-family='"Liberation Sans", sans-serif' font-weight="normal" stroke="#262626" stroke-width="0.05">0</text>
<line x1="413.60" y1="50.62" x2="416.00" y2="50.62" stroke="#444" stroke-width="0.8"/>
<text x="409.90" y="50.62" font-size="7.5" text-anchor="middle" fill="#333" font-family='"Liberation Sans", sans-serif' font-weight="normal" transform="rotate(-90 409.9 50.61666666666667)">0</text>
<line x1="521.00" y1="218.70" x2="521.00" y2="221.10" stroke="#444" stroke-width="0.8"/>
<text x="521.00" y="228.60" font-size="7.5" text-anchor="middle" fill="#262626" font-family='"Liberation Sans", sans-serif' font-weight="normal" stroke="#262626" stroke-width="0.05">1</text>
<line x1="413.60" y1="117.85" x2="416.00" y2="117.85" stroke="#444" stroke-width="0.8"/>
<text x="409.90" y="117.85" font-size="7.5" text-anchor="middle" fill="#333" font-family='"Liberation Sans", sans-serif' font-weight="normal" transform="rotate(-90 409.9 117.85)">1</text>
<line x1="591.00" y1="218.70" x2="591.00" y2="221.10" stroke="#444" stroke-width="0.8"/>
<text x="591.00" y="228.60" font-size="7.5" text-anchor="middle" fill="#262626" font-family='"Liberation Sans", sans-serif' font-weight="normal" stroke="#262626" stroke-width="0.05">2</text>
<line x1="413.60" y1="185.08" x2="416.00" y2="185.08" stroke="#444" stroke-width="0.8"/>
<text x="409.90" y="185.08" font-size="7.5" text-anchor="middle" fill="#333" font-family='"Liberation Sans", sans-serif' font-weight="normal" transform="rotate(-90 409.9 185.08333333333334)">2</text>
<text x="521.00" y="13.20" font-size="9.3" text-anchor="middle" fill="#1a1a1a" font-family='"Liberation Sans", sans-serif' font-weight="normal" stroke="#1a1a1a" stroke-width="0.06">TongueColor Confusion Matrix</text>
<text x="521.00" y="238.60" font-size="7.6" text-anchor="middle" fill="#262626" font-family='"Liberation Sans", sans-serif' font-weight="normal" stroke="#262626" stroke-width="0.18">Predicted Labels</text>
<text x="400.80" y="117.85" font-size="7.45" text-anchor="middle" fill="#262626" font-family='"Liberation Sans", sans-serif' font-weight="normal" stroke="#262626" stroke-width="0.18" transform="rotate(-90 400.8 117.85)">True Labels</text>
<text x="387.50" y="24.80" font-size="11.5" text-anchor="start" fill="#111" font-family='"Liberation Serif", serif' font-weight="bold">c</text>
<defs><linearGradient id="gc" x1="0" y1="1" x2="0" y2="0"><stop offset="0.000" stop-color="#fafafe"/><stop offset="0.050" stop-color="#f3f6fc"/><stop offset="0.100" stop-color="#ebf2f9"/><stop offset="0.150" stop-color="#e4eef8"/><stop offset="0.200" stop-color="#dae8f3"/><stop offset="0.250" stop-color="#d1e2ef"/><stop offset="0.300" stop-color="#c7dcea"/><stop offset="0.350" stop-color="#bbd5e5"/><stop offset="0.400" stop-color="#aacbdf"/><stop offset="0.450" stop-color="#9ac0d9"/><stop offset="0.500" stop-color="#8ab6d3"/><stop offset="0.550" stop-color="#79aacb"/><stop offset="0.600" stop-color="#689dc3"/><stop offset="0.650" stop-color="#5b8fba"/><stop offset="0.700" stop-color="#4e80b2"/><stop offset="0.750" stop-color="#4172a9"/><stop offset="0.800" stop-color="#3464a0"/><stop offset="0.850" stop-color="#315691"/><stop offset="0.900" stop-color="#2d4882"/><stop offset="0.950" stop-color="#2b3e71"/><stop offset="1.000" stop-color="#29335f"/></linearGradient></defs>
<rect x="639" y="17" width="10.5" height="201.7" fill="url(#gc)"/>
<line x1="649.50" y1="201.41" x2="651.90" y2="201.41" stroke="#444" stroke-width="0.8"/>
<text x="653.50" y="204.31" font-size="8.3" text-anchor="start" fill="#262626" font-family='"Liberation Sans", sans-serif' font-weight="normal" stroke="#262626" stroke-width="0.1">10</text>
<line x1="649.50" y1="172.60" x2="651.90" y2="172.60" stroke="#444" stroke-width="0.8"/>
<text x="653.50" y="175.50" font-size="8.3" text-anchor="start" fill="#262626" font-family='"Liberation Sans", sans-serif' font-weight="normal" stroke="#262626" stroke-width="0.1">20</text>
<line x1="649.50" y1="143.78" x2="651.90" y2="143.78" stroke="#444" stroke-width="0.8"/>
<text x="653.50" y="146.68" font-size="8.3" text-anchor="start" fill="#262626" font-family='"Liberation Sans", sans-serif' font-weight="normal" stroke="#262626" stroke-width="0.1">30</text>
<line x1="649.50" y1="114.97" x2="651.90" y2="114.97" stroke="#444" stroke-width="0.8"/>
<text x="653.50" y="117.87" font-size="8.3" text-anchor="start" fill="#262626" font-family='"Liberation Sans", sans-serif' font-weight="normal" stroke="#262626" stroke-width="0.1">40</text>
<line x1="649.50" y1="86.15" x2="651.90" y2="86.15" stroke="#444" stroke-width="0.8"/>
<text x="653.50" y="89.05" font-size="8.3" text-anchor="start" fill="#262626" font-family='"Liberation Sans", sans-serif' font-weight="normal" stroke="#262626" stroke-width="0.1">50</text>
<line x1="649.50" y1="57.34" x2="651.90" y2="57.34" stroke="#444" stroke-width="0.8"/>
<text x="653.50" y="60.24" font-size="8.3" text-anchor="start" fill="#262626" font-family='"Liberation Sans", sans-serif' font-weight="normal" stroke="#262626" stroke-width="0.1">60</text>
<line x1="649.50" y1="28.53" x2="651.90" y2="28.53" stroke="#444" stroke-width="0.8"/>
<text x="653.50" y="31.43" font-size="8.3" text-anchor="start" fill="#262626" font-family='"Liberation Sans", sans-serif' font-weight="normal" stroke="#262626" stroke-width="0.1">70</text>
<text x="675.30" y="117.85" font-size="7.84" text-anchor="middle" fill="#262626" font-family='"Liberation Sans", sans-serif' font-weight="normal" stroke="#262626" stroke-width="0.18" transform="rotate(-90 675.3 117.85)">Number of Samples</text>
<rect x="416.00" y="269.00" width="70.30" height="68.10" fill="#29335f"/>
<text x="451.00" y="305.60" font-size="7.67" text-anchor="middle" fill="#fff" font-family='"Liberation Sans", sans-serif' font-weight="normal" stroke="#fff" stroke-width="0.05">122</text>
<rect x="486.00" y="269.00" width="70.30" height="68.10" fill="#eff4fb"/>
<text x="521.00" y="305.60" font-size="7.67" text-anchor="middle" fill="#262626" font-family='"Liberation Sans", sans-serif' font-weight="normal" stroke="#262626" stroke-width="0.05">9</text>
<rect x="556.00" y="269.00" width="70.30" height="68.10" fill="#fafafe"/>
<text x="591.00" y="305.60" font-size="7.67" text-anchor="middle" fill="#262626" font-family='"Liberation Sans", sans-serif' font-weight="normal" stroke="#262626" stroke-width="0.05">0</text>
<rect x="416.00" y="336.80" width="70.30" height="68.10" fill="#e8f0f9"/>
<text x="451.00" y="373.40" font-size="7.67" text-anchor="middle" fill="#262626" font-family='"Liberation Sans", sans-serif' font-weight="normal" stroke="#262626" stroke-width="0.05">15</text>
<rect x="486.00" y="336.80" width="70.30" height="68.10" fill="#c1d9e7"/>
<text x="521.00" y="373.40" font-size="7.67" text-anchor="middle" fill="#262626" font-family='"Liberation Sans", sans-serif' font-weight="normal" stroke="#262626" stroke-width="0.05">40</text>
<rect x="556.00" y="336.80" width="70.30" height="68.10" fill="#f1f5fb"/>
<text x="591.00" y="373.40" font-size="7.67" text-anchor="middle" fill="#262626" font-family='"Liberation Sans", sans-serif' font-weight="normal" stroke="#262626" stroke-width="0.05">8</text>
<rect x="416.00" y="404.60" width="70.30" height="68.10" fill="#fafafe"/>
<text x="451.00" y="441.20" font-size="7.67" text-anchor="middle" fill="#262626" font-family='"Liberation Sans", sans-serif' font-weight="normal" stroke="#262626" stroke-width="0.05">0</text>
<rect x="486.00" y="404.60" width="70.30" height="68.10" fill="#f4f7fc"/>
<text x="521.00" y="441.20" font-size="7.67" text-anchor="middle" fill="#262626" font-family='"Liberation Sans", sans-serif' font-weight="normal" stroke="#262626" stroke-width="0.05">5</text>
<rect x="556.00" y="404.60" width="70.30" height="68.10" fill="#e3edf7"/>
<text x="591.00" y="441.20" font-size="7.67" text-anchor="middle" fill="#262626" font-family='"Liberation Sans", sans-serif' font-weight="normal" stroke="#262626" stroke-width="0.05">19</text>
<line x1="451.00" y1="472.40" x2="451.00" y2="474.80" stroke="#444" stroke-width="0.8"/>
<text x="451.00" y="482.70" font-size="7.5" text-anchor="middle" fill="#262626" font-family='"Liberation Sans", sans-serif' font-weight="normal" stroke="#262626" stroke-width="0.05">0</text>
<line x1="413.60" y1="302.90" x2="416.00" y2="302.90" stroke="#444" stroke-width="0.8"/>
<text x="409.90" y="302.90" font-size="7.5" text-anchor="middle" fill="#333" font-family='"Liberation Sans", sans-serif' font-weight="normal" transform="rotate(-90 409.9 302.9)">0</text>
<line x1="521.00" y1="472.40" x2="521.00" y2="474.80" stroke="#444" stroke-width="0.8"/>
<text x="521.00" y="482.70" font-size="7.5" text-anchor="middle" fill="#262626" font-family='"Liberation Sans", sans-serif' font-weight="normal" stroke="#262626" stroke-width="0.05">1</text>
<line x1="413.60" y1="370.70" x2="416.00" y2="370.70" stroke="#444" stroke-width="0.8"/>
<text x="409.90" y="370.70" font-size="7.5" text-anchor="middle" fill="#333" font-family='"Liberation Sans", sans-serif' font-weight="normal" transform="rotate(-90 409.9 370.7)">1</text>
<line x1="591.00" y1="472.40" x2="591.00" y2="474.80" stroke="#444" stroke-width="0.8"/>
<text x="591.00" y="482.70" font-size="7.5" text-anchor="middle" fill="#262626" font-family='"Liberation Sans", sans-serif' font-weight="normal" stroke="#262626" stroke-width="0.05">2</text>
<line x1="413.60" y1="438.50" x2="416.00" y2="438.50" stroke="#444" stroke-width="0.8"/>
<text x="409.90" y="438.50" font-size="7.5" text-anchor="middle" fill="#333" font-family='"Liberation Sans", sans-serif' font-weight="normal" transform="rotate(-90 409.9 438.5)">2</text>
<text x="521.00" y="264.60" font-size="9.3" text-anchor="middle" fill="#1a1a1a" font-family='"Liberation Sans", sans-serif' font-weight="normal" stroke="#1a1a1a" stroke-width="0.06">TongueCoatingThickness Confusion Matrix</text>
<text x="521.00" y="492.60" font-size="7.6" text-anchor="middle" fill="#262626" font-family='"Liberation Sans", sans-serif' font-weight="normal" stroke="#262626" stroke-width="0.18">Predicted Labels</text>
<text x="400.80" y="370.70" font-size="7.45" text-anchor="middle" fill="#262626" font-family='"Liberation Sans", sans-serif' font-weight="normal" stroke="#262626" stroke-width="0.18" transform="rotate(-90 400.8 370.7)">True Labels</text>
<text x="390.30" y="276.70" font-size="11.5" text-anchor="start" fill="#111" font-family='"Liberation Serif", serif' font-weight="bold">d</text>
<defs><linearGradient id="gd" x1="0" y1="1" x2="0" y2="0"><stop offset="0.000" stop-color="#fafafe"/><stop offset="0.050" stop-color="#f3f6fc"/><stop offset="0.100" stop-color="#ebf2f9"/><stop offset="0.150" stop-color="#e4eef8"/><stop offset="0.200" stop-color="#dae8f3"/><stop offset="0.250" stop-color="#d1e2ef"/><stop offset="0.300" stop-color="#c7dcea"/><stop offset="0.350" stop-color="#bbd5e5"/><stop offset="0.400" stop-color="#aacbdf"/><stop offset="0.450" stop-color="#9ac0d9"/><stop offset="0.500" stop-color="#8ab6d3"/><stop offset="0.550" stop-color="#79aacb"/><stop offset="0.600" stop-color="#689dc3"/><stop offset="0.650" stop-color="#5b8fba"/><stop offset="0.700" stop-color="#4e80b2"/><stop offset="0.750" stop-color="#4172a9"/><stop offset="0.800" stop-color="#3464a0"/><stop offset="0.850" stop-color="#315691"/><stop offset="0.900" stop-color="#2d4882"/><stop offset="0.950" stop-color="#2b3e71"/><stop offset="1.000" stop-color="#29335f"/></linearGradient></defs>
<rect x="639.7" y="269" width="9.899999999999977" height="203.39999999999998" fill="url(#gd)"/>
<line x1="649.60" y1="472.40" x2="652.00" y2="472.40" stroke="#444" stroke-width="0.8"/>
<text x="653.60" y="475.30" font-size="8.3" text-anchor="start" fill="#262626" font-family='"Liberation Sans", sans-serif' font-weight="normal" stroke="#262626" stroke-width="0.1">0</text>
<line x1="649.60" y1="439.06" x2="652.00" y2="439.06" stroke="#444" stroke-width="0.8"/>
<text x="653.60" y="441.96" font-size="8.3" text-anchor="start" fill="#262626" font-family='"Liberation Sans", sans-serif' font-weight="normal" stroke="#262626" stroke-width="0.1">20</text>
<line x1="649.60" y1="405.71" x2="652.00" y2="405.71" stroke="#444" stroke-width="0.8"/>
<text x="653.60" y="408.61" font-size="8.3" text-anchor="start" fill="#262626" font-family='"Liberation Sans", sans-serif' font-weight="normal" stroke="#262626" stroke-width="0.1">40</text>
<line x1="649.60" y1="372.37" x2="652.00" y2="372.37" stroke="#444" stroke-width="0.8"/>
<text x="653.60" y="375.27" font-size="8.3" text-anchor="start" fill="#262626" font-family='"Liberation Sans", sans-serif' font-weight="normal" stroke="#262626" stroke-width="0.1">60</text>
<line x1="649.60" y1="339.02" x2="652.00" y2="339.02" stroke="#444" stroke-width="0.8"/>
<text x="653.60" y="341.92" font-size="8.3" text-anchor="start" fill="#262626" font-family='"Liberation Sans", sans-serif' font-weight="normal" stroke="#262626" stroke-width="0.1">80</text>
<line x1="649.60" y1="305.68" x2="652.00" y2="305.68" stroke="#444" stroke-width="0.8"/>
<text x="653.60" y="308.58" font-size="8.3" text-anchor="start" fill="#262626" font-family='"Liberation Sans", sans-serif' font-weight="normal" stroke="#262626" stroke-width="0.1">100</text>
<line x1="649.60" y1="272.33" x2="652.00" y2="272.33" stroke="#444" stroke-width="0.8"/>
<text x="653.60" y="275.23" font-size="8.3" text-anchor="start" fill="#262626" font-family='"Liberation Sans", sans-serif' font-weight="normal" stroke="#262626" stroke-width="0.1">120</text>
<text x="675.30" y="370.70" font-size="7.84" text-anchor="middle" fill="#262626" font-family='"Liberation Sans", sans-serif' font-weight="normal" stroke="#262626" stroke-width="0.18" transform="rotate(-90 675.3 370.7)">Number of Samples</text>
</svg></body></html>
